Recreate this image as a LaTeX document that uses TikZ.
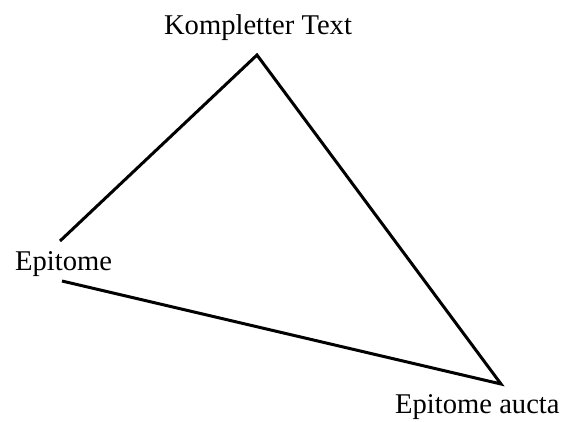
\documentclass[tikz,border=0pt]{standalone}
\usepackage{fontspec}
\setmainfont{Liberation Serif}
\usetikzlibrary{positioning}

\begin{document}
\begin{tikzpicture}[
  x=1pt, y=-1pt,
  label/.style={font=\fontsize{28.6}{34}\selectfont, inner sep=0pt, text=black},
  edge/.style={draw=black, line width=3pt},
]
  \useasboundingbox (0,0) rectangle (562,421);

  %% ---- Texts ----
  \node[label, anchor=base] (full) at (258,34) {Kompletter Text};
  \node[label, anchor=base west] (epi) at (15,270) {Epitome};
  \node[label, anchor=base west] (aucta) at (395,413) {Epitome aucta};

  %% ---- Corners ----
  \coordinate (top) at (257,55);
  \coordinate (epiin) at (60,241);
  \coordinate (epiout) at (62,281);
  \coordinate (bot) at (501,384);

  %% ---- Sides ----
  \draw[edge] (epiin) -- (top) -- (bot) -- (epiout);
\end{tikzpicture}
\end{document}
